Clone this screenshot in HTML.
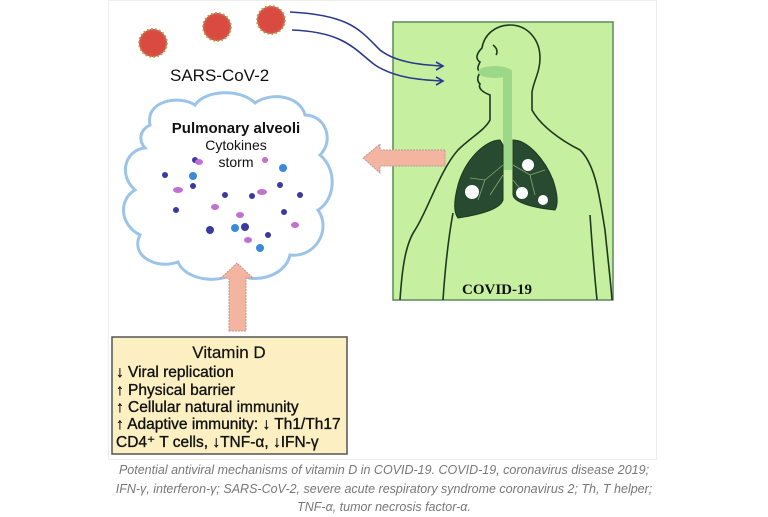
<!DOCTYPE html>
<html><head><meta charset="utf-8"><style>
body{margin:0;background:#fff;width:768px;height:515px;overflow:hidden;font-family:"Liberation Sans",sans-serif}
.cap{position:absolute;left:0;width:768px;text-align:center;font-style:italic;color:#777;font-size:12.5px;line-height:18.5px;top:461px}
</style></head><body>
<svg width="768" height="515" style="position:absolute;left:0;top:0">
<rect x="108.5" y="0.5" width="548" height="459" fill="#fff" stroke="#eee"/>
<!-- viruses -->
<g fill="#d9534a" stroke="#a8a050" stroke-width="2" stroke-dasharray="1.5 2.5">
<circle cx="153" cy="43" r="14"/><circle cx="217" cy="27" r="14"/><circle cx="271" cy="20" r="14"/></g>
<g fill="#d94a40"><circle cx="153" cy="43" r="12"/><circle cx="217" cy="27" r="12"/><circle cx="271" cy="20" r="12"/></g>
<text x="170" y="81" font-size="17" fill="#111">SARS-CoV-2</text>
<!-- green box -->
<rect x="393" y="22" width="220" height="278" fill="#c6f0a0" stroke="#5a8a5a" stroke-width="1.5"/>
<g fill="none" stroke="#1e3a1e" stroke-width="1.6">
<path d="M400 300 C402 270,405 245,415 230 C428 210,440 170,458 150 C470 138,485 130,490 120 L490 95 C482 92,478 88,480 84 C476 80,478 75,481 72 C476 70,478 66,480 62 C474 58,478 52,482 48 C484 35,495 25,510 25 C528 25,540 40,540 58 C540 72,534 80,532 92 L532 110 C540 125,560 140,580 150 C596 165,600 200,605 230 C608 260,611 285,612 300"/>
<path d="M443 300 C445 270,448 240,453 213"/><path d="M597 300 C594 270,592 245,590 215"/>
<path d="M493 45 C497 48,498 52,496 55"/></g>
<rect x="503" y="70" width="9" height="100" fill="#9cd888"/>
<ellipse cx="495" cy="72" rx="17" ry="6" fill="#9cd888"/>
<path d="M500 140 C485 140,465 160,458 185 C454 200,453 212,458 218 C478 215,500 210,503 200 L503 145 Z" fill="#284a30" stroke="#1e3a1e"/>
<path d="M513 140 C528 140,545 160,553 180 C558 195,558 205,555 210 C535 208,514 203,513 195 L513 145 Z" fill="#284a30" stroke="#1e3a1e"/>
<g fill="none" stroke="#8aa870" stroke-width="0.8"><path d="M503 165 L485 180 L470 178 M485 180 L478 200 M503 175 L490 195"/><path d="M513 165 L530 175 L545 170 M530 175 L535 195 M513 180 L525 195"/></g>
<g fill="#fff"><circle cx="472" cy="192" r="7"/><circle cx="528" cy="165" r="6"/><circle cx="522" cy="193" r="6"/><circle cx="543" cy="200" r="5"/></g>
<text x="462" y="294" font-family="Liberation Serif,serif" font-weight="bold" font-size="15" fill="#111">COVID-19</text>
<!-- blue curves -->
<g fill="none" stroke="#2a3a8a" stroke-width="1.6">
<path d="M290 12 C350 15,360 30,380 50 C395 62,420 65,443 66"/>
<path d="M292 30 C345 32,355 50,375 65 C395 78,420 80,443 81"/>
<path d="M436 62 L443 66 L436 70"/><path d="M436 77 L443 81 L436 85"/></g>
<!-- left arrow -->
<path d="M445 150 L380 150 L380 144 L363 158 L380 173 L380 166 L445 166 Z" fill="#f3b4a0" stroke="#b99" stroke-dasharray="2 1"/>
<!-- cloud -->
<path d="M150 125 C145 100,180 95,195 105 C205 90,240 88,255 103 C270 92,300 95,305 115 C325 115,335 140,320 155 C338 170,335 200,318 210 C332 230,315 258,290 255 C285 278,250 285,235 272 C220 285,185 280,178 262 C155 270,130 255,140 235 C120 225,118 200,135 190 C118 175,125 150,145 148 C138 140,140 130,150 125 Z" fill="#fff" stroke="#9cc4e8" stroke-width="3"/>
<g font-size="14" text-anchor="middle" fill="#111">
<text x="236" y="133" font-weight="bold" font-size="15">Pulmonary alveoli</text>
<text x="236" y="150">Cytokines</text><text x="236" y="167">storm</text></g>
<g fill="#3a3aa0"><circle cx="165" cy="175" r="3"/><circle cx="193" cy="186" r="3"/><circle cx="176" cy="210" r="3"/><circle cx="210" cy="230" r="4"/><circle cx="252" cy="196" r="3"/><circle cx="245" cy="227" r="4"/><circle cx="280" cy="185" r="3"/><circle cx="284" cy="212" r="3"/><circle cx="195" cy="160" r="3"/><circle cx="225" cy="195" r="3"/><circle cx="268" cy="235" r="3"/><circle cx="300" cy="195" r="3"/></g>
<g fill="#c070d0"><ellipse cx="178" cy="190" rx="5" ry="3"/><ellipse cx="199" cy="162" rx="4" ry="3"/><ellipse cx="262" cy="192" rx="5" ry="3"/><ellipse cx="240" cy="215" rx="4" ry="3"/><ellipse cx="248" cy="240" rx="4" ry="3"/><ellipse cx="265" cy="160" rx="3" ry="3"/><ellipse cx="215" cy="207" rx="4" ry="3"/><ellipse cx="295" cy="225" rx="4" ry="3"/></g>
<g fill="#3a8ad8"><circle cx="193" cy="176" r="4"/><circle cx="283" cy="168" r="4"/><circle cx="235" cy="228" r="4"/><circle cx="260" cy="248" r="4"/></g>
<!-- up arrow -->
<path d="M229 331 L229 278 L221 278 L237 263 L253 278 L246 278 L246 331 Z" fill="#f3b4a0" stroke="#b99" stroke-dasharray="2 1"/>
<!-- vitamin D box -->
<rect x="112" y="337" width="235" height="117" fill="#fcefc2" stroke="#555" stroke-width="1.5"/>
<g font-size="15.5" fill="#111" stroke="#111" stroke-width="0.35">
<text x="229" y="358" text-anchor="middle" font-size="17" stroke-width="0.2">Vitamin D</text>
<text x="116" y="377">↓ Viral replication</text>
<text x="116" y="395">↑ Physical barrier</text>
<text x="116" y="412">↑ Cellular natural immunity</text>
<text x="116" y="429">↑ Adaptive immunity: ↓ Th1/Th17</text>
<text x="116" y="447">CD4⁺ T cells, ↓TNF-α, ↓IFN-γ</text></g>
</svg>
<div class="cap">Potential antiviral mechanisms of vitamin D in COVID-19. COVID-19, coronavirus disease 2019;<br>IFN-γ, interferon-γ; SARS-CoV-2, severe acute respiratory syndrome coronavirus 2; Th, T helper;<br>TNF-α, tumor necrosis factor-α.</div>
</body></html>
